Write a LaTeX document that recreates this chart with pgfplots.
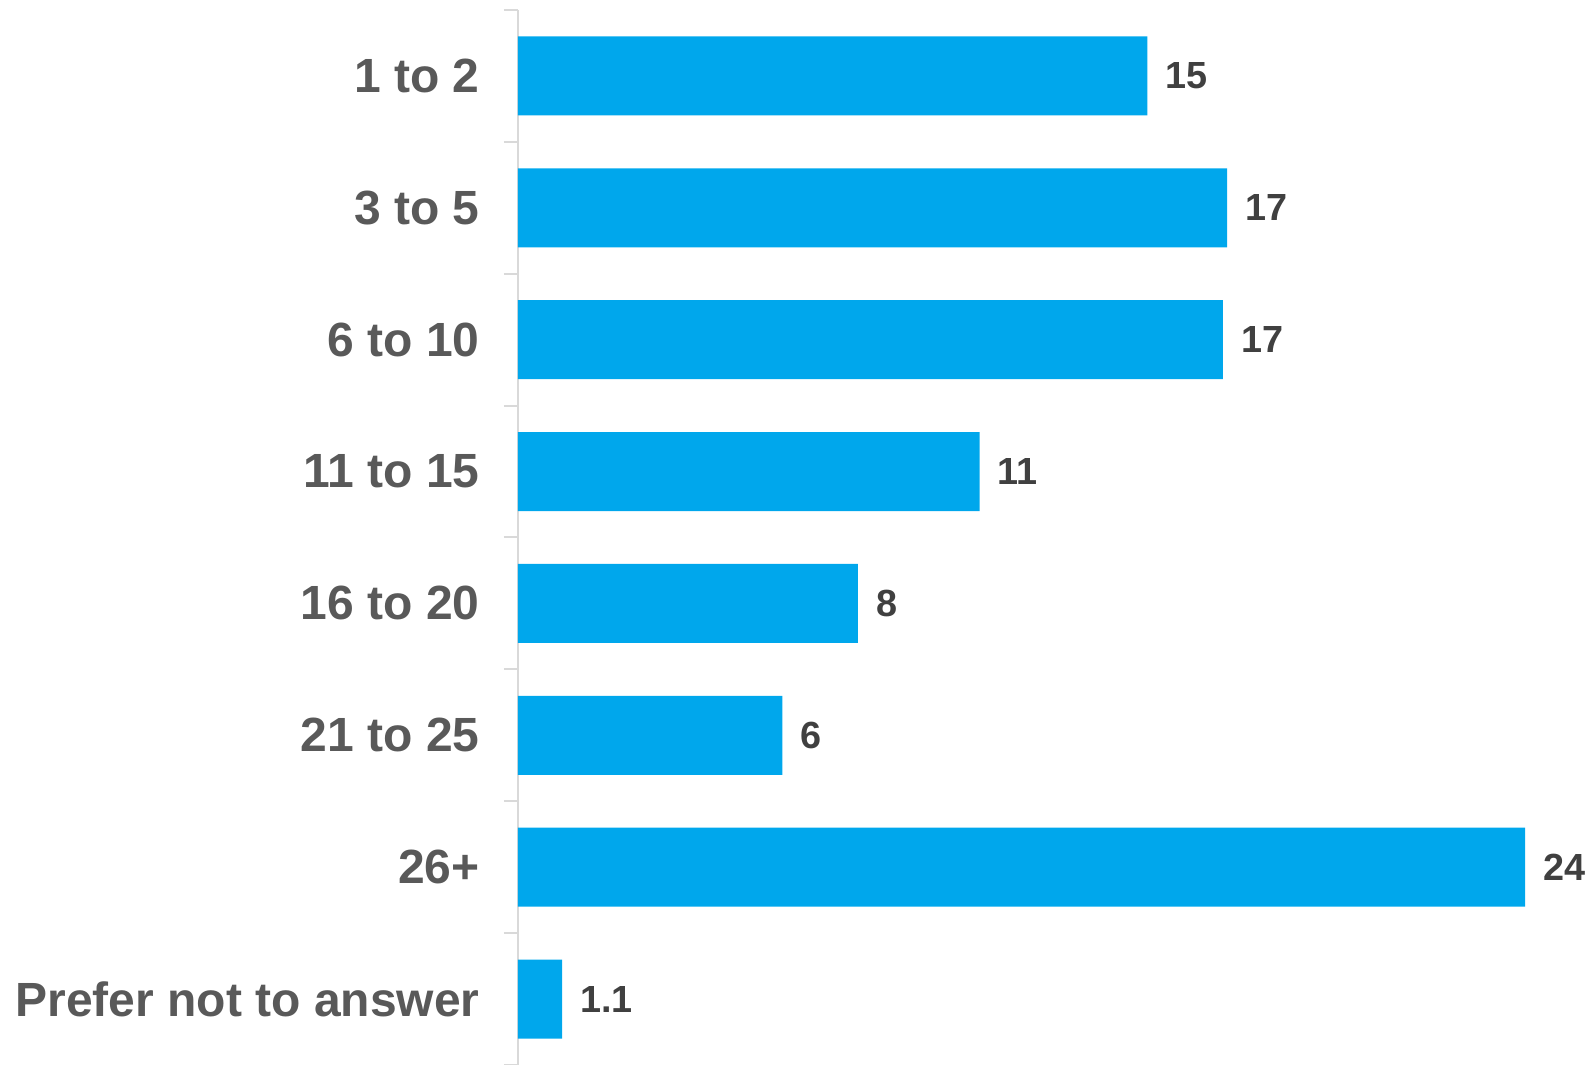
\documentclass[border=0pt]{standalone}
\usepackage{pgfplots}
\pgfplotsset{compat=1.18}
\usepackage{fontspec}
\setmainfont{Liberation Sans}
\definecolor{barblue}{RGB}{0,167,236}
\definecolor{catgray}{RGB}{89,89,89}
\definecolor{valgray}{RGB}{64,64,64}
\definecolor{axgray}{RGB}{217,217,217}
\begin{document}
\begin{tikzpicture}
\begin{axis}[
  scale only axis,
  width=503.5bp, height=527.5bp,
  xmin=0, xmax=24,
  ymin=-0.5, ymax=7.5,
  y dir=reverse,
  axis y line*=left,
  axis x line=none,
  xtick=\empty,
  ytick={0,...,7},
  yticklabels={1 to 2,3 to 5,6 to 10,11 to 15,16 to 20,21 to 25,26+,Prefer not to answer},
  minor ytick={-0.5,0.5,...,7.5},
  tick align=outside,
  major tick length=0pt,
  minor tick length=7bp,
  major tick style={draw=none},
  minor tick style={draw=axgray, line width=1bp},
  y axis line style={draw=axgray, line width=1.2bp},
  yticklabel style={font=\fontsize{24bp}{28bp}\selectfont\bfseries, text=catgray, anchor=east, inner sep=0pt, xshift=-19bp},
  xbar, bar width=39.5bp,
  clip=false,
  point meta=explicit symbolic,
  nodes near coords,
  nodes near coords style={font=\fontsize{18.9bp}{22bp}\selectfont\bfseries, text=valgray, anchor=west, inner sep=0pt, xshift=9bp},
]
\addplot[fill=barblue, draw=none] coordinates {
  (15.0,0) [15]
  (16.9,1) [17]
  (16.8,2) [17]
  (11.0,3) [11]
  (8.1,4) [8]
  (6.3,5) [6]
  (24.0,6) [24]
  (1.05,7) [1.1]
};
\end{axis}
\pgfresetboundingbox
\path[use as bounding box] ([xshift=-259bp]current axis.south west) rectangle ([xshift=538bp,yshift=5bp]current axis.north west);
\end{tikzpicture}
\end{document}
